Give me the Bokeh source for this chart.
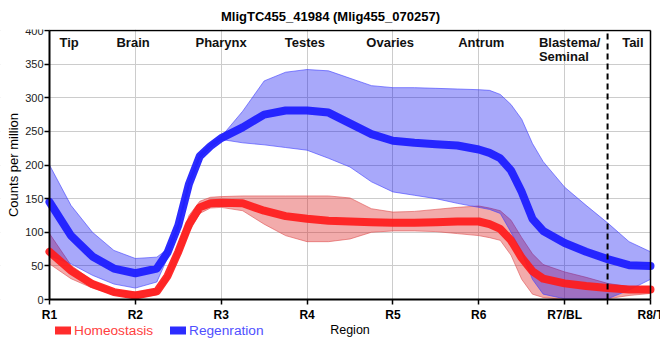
from math import pi
from bokeh.plotting import figure
from bokeh.models import (Range1d, FixedTicker, Label, Legend, LegendItem,
                          ColumnDataSource, BoxAnnotation, LinearAxis)
from bokeh.embed import file_html
from bokeh.resources import INLINE

# ---- data ----
positions = [0, 0.25, 0.5, 0.75, 1.0, 1.25, 1.375, 1.5, 1.625, 1.75, 1.875, 2.0, 2.25, 2.5,
             2.75, 3.0, 3.25, 3.5, 3.75, 4.0, 4.25, 4.5, 4.75, 5.0, 5.125, 5.25, 5.375, 5.5,
             5.625, 5.75, 6.0, 6.25, 6.5, 6.75, 7.0]

regen_mean = [145, 95, 64, 46, 39, 46, 70, 110, 172, 213, 228, 240, 256, 275,
              281, 281, 278, 262, 246, 236, 233, 231, 229, 223, 218, 210, 192, 160,
              120, 102, 84, 71, 60, 51, 50]
regen_upper = [200, 140, 100, 73, 61, 63, 75, 113, 177, 216, 232, 242, 280, 325,
               338, 342, 340, 329, 318, 315, 315, 314, 313, 312, 311, 305, 290, 268,
               232, 205, 167, 140, 114, 86, 71]
regen_lower = [65, 53, 36, 23, 17, 26, 62, 106, 168, 210, 226, 238, 233, 230,
               226, 222, 210, 197, 175, 160, 155, 150, 143, 137, 134, 128, 100, 70,
               30, 8, 1, 1, 1, 14, 30]

homeo_mean = [71, 43, 23, 11, 6, 12, 35, 71, 112, 137, 143, 144, 143, 132,
              124, 120, 117, 116, 115, 114, 114, 115, 116, 116, 112, 105, 88, 62,
              42, 31, 24, 20, 17, 15, 15]
homeo_upper = [98, 51, 28, 14, 11, 16, 40, 80, 125, 146, 152, 153, 154, 154,
               154, 154, 154, 151, 135, 130, 131, 134, 137, 139, 136, 132, 118, 92,
               68, 52, 41, 33, 24, 19, 19]
homeo_lower = [53, 31, 17, 7, 2, 7, 28, 62, 100, 128, 136, 137, 132, 112,
               95, 86, 86, 90, 100, 102, 102, 101, 98, 95, 92, 88, 66, 30,
               8, 3, 0, 0, 1, 6, 9]

tick_labels = ["R1", "R2", "R3", "R4", "R5", "R6", "R7/BL", "R8/T"]
region_names = ["Tip", "Brain", "Pharynx", "Testes", "Ovaries", "Antrum", "Blastema/", "Tail"]
second_line = "Seminal"
y_ticks = [0, 50, 100, 150, 200, 250, 300, 350, 400]
tail_boundary = 6.5

title_text = "MligTC455_41984 (Mlig455_070257)"
x_title = "Region"
y_title = "Counts per million"

# ---- figure ----
FONT = "Liberation Sans"
X_MIN, X_MAX = 0, len(tick_labels) - 1
Y_MIN, Y_MAX = y_ticks[0], y_ticks[-1]
# The frame covers the whole area (axes are fixed at the data edges) so that the
# axis texts and the legend row, drawn outside the data area, are not clipped.
p = figure(width=660, height=360, output_backend="svg", toolbar_location=None,
           x_range=Range1d(-0.5707, 7.1165), y_range=Range1d(-90.7, 401.5),
           min_border_left=0, min_border_right=0, min_border_top=29, min_border_bottom=0)
xax = p.below[0]
yax = p.left[0]
xgrid = p.xgrid[0]
ygrid = p.ygrid[0]

p.title.text = title_text
p.title.align = "center"
p.title.text_font = FONT
p.title.text_font_size = "13px"
p.title.text_font_style = "bold"
p.title.text_color = "black"
p.title.standoff = 12
p.title.offset = 0

# white masks that keep the grid inside the data area
for box in (BoxAnnotation(top=Y_MIN), BoxAnnotation(right=X_MIN), BoxAnnotation(left=X_MAX)):
    box.fill_color = "white"
    box.fill_alpha = 1
    box.line_color = None
    box.level = "underlay"
    p.add_layout(box)

src = ColumnDataSource(dict(x=positions, rm=regen_mean, ru=regen_upper, rl=regen_lower,
                            hm=homeo_mean, hu=homeo_upper, hl=homeo_lower))

# bands
p.varea(x="x", y1="hl", y2="hu", source=src, fill_color="#dd2222", fill_alpha=0.38)
p.line(x="x", y="hu", source=src, line_color="#e05050", line_alpha=0.6, line_width=1)
p.line(x="x", y="hl", source=src, line_color="#e05050", line_alpha=0.6, line_width=1)
p.varea(x="x", y1="rl", y2="ru", source=src, fill_color="#0000f0", fill_alpha=0.34)
p.line(x="x", y="ru", source=src, line_color="#4040ff", line_alpha=0.6, line_width=1)
p.line(x="x", y="rl", source=src, line_color="#4040ff", line_alpha=0.6, line_width=1)

# means
r_h = p.line(x="x", y="hm", source=src, line_color="#ff1a1a", line_alpha=0.92, line_width=8,
             line_join="round", line_cap="round")
r_r = p.line(x="x", y="rm", source=src, line_color="#1a1aff", line_alpha=0.92, line_width=8,
             line_join="round", line_cap="round")

# tail boundary (dashed)
p.segment(x0=[tail_boundary], y0=[Y_MIN], x1=[tail_boundary], y1=[Y_MAX],
          line_color="black", line_width=2, line_dash="6 4")

# frame border: top and right
def border_axis(loc, bounds):
    return LinearAxis(fixed_location=loc, bounds=bounds, ticker=FixedTicker(ticks=[]),
                      major_tick_out=0, major_tick_in=0, minor_tick_out=0, minor_tick_in=0,
                      major_label_text_font_size="0px", axis_line_color="black",
                      axis_line_width=1.5)
p.add_layout(border_axis(X_MAX, (Y_MIN, Y_MAX)), "right")
p.add_layout(border_axis(Y_MAX, (X_MIN, X_MAX)), "above")

# region labels
label_x = [0.116, 0.78, 1.70, 2.74, 3.69, 4.76, 5.70, 6.67]
for name, lx in zip(region_names, label_x):
    p.add_layout(Label(x=lx, y=393, text=name, text_font=FONT, text_font_size="13px",
                       text_font_style="bold", text_baseline="top", text_align="left",
                       text_color="#111111"))
p.add_layout(Label(x=5.70, y=372, text=second_line, text_font=FONT, text_font_size="13px",
                   text_font_style="bold", text_baseline="top", text_align="left",
                   text_color="#111111"))

# y-axis title
p.add_layout(Label(x=-0.425, y=(Y_MIN + Y_MAX) / 2, text=y_title, angle=pi / 2,
                   text_font=FONT, text_font_size="13px", text_align="center",
                   text_baseline="middle", text_color="black"))

# main axes
xax.fixed_location = Y_MIN
xax.bounds = (X_MIN, X_MAX)
yax.fixed_location = X_MIN
yax.bounds = (Y_MIN, Y_MAX)
xax.ticker = FixedTicker(ticks=list(range(len(tick_labels))) + [tail_boundary])
overrides = {i: t for i, t in enumerate(tick_labels)}
overrides[tail_boundary] = ""
xax.major_label_overrides = overrides
yax.ticker = FixedTicker(ticks=y_ticks)
for ax in (xax, yax):
    ax.minor_tick_line_color = None
    ax.axis_line_color = "black"
    ax.axis_line_width = 2
    ax.major_tick_line_color = "black"
    ax.major_tick_line_width = 1.5
    ax.major_tick_out = 5
    ax.major_tick_in = 0
    ax.major_label_text_font = FONT
xax.major_label_text_font_style = "bold"
xax.major_label_text_font_size = "12px"
xax.major_label_text_color = "black"
xax.major_label_standoff = 3
xax.axis_label = x_title
xax.axis_label_standoff = -2
xax.axis_label_text_font = FONT
xax.axis_label_text_font_style = "normal"
xax.axis_label_text_font_size = "12.5px"
xax.axis_label_text_color = "black"
yax.major_label_text_font_size = "11px"
yax.major_label_text_color = "#222222"
yax.major_label_standoff = 1

xgrid.ticker = FixedTicker(ticks=list(range(len(tick_labels))))
ygrid.ticker = FixedTicker(ticks=y_ticks)
for g in (xgrid, ygrid):
    g.grid_line_color = "#cccccc"
    g.grid_line_width = 1

p.outline_line_color = None

# legends (inside the frame, in the row below the x axis)
common = dict(orientation="horizontal", label_text_font=FONT, label_text_font_size="13.7px",
              glyph_width=16, glyph_height=16, label_standoff=3, padding=0, margin=0,
              spacing=0, border_line_color=None, background_fill_alpha=0, label_height=16)
leg_h = Legend(items=[LegendItem(label="Homeostasis", renderers=[r_h])], location=(55, 22),
               label_text_color="#ff4040", **common)
leg_r = Legend(items=[LegendItem(label="Regenration", renderers=[r_r])], location=(170, 22),
               label_text_color="#5050ff", **common)
p.add_layout(leg_h)
p.add_layout(leg_r)

open("out.html", "w").write(file_html(p, INLINE))
